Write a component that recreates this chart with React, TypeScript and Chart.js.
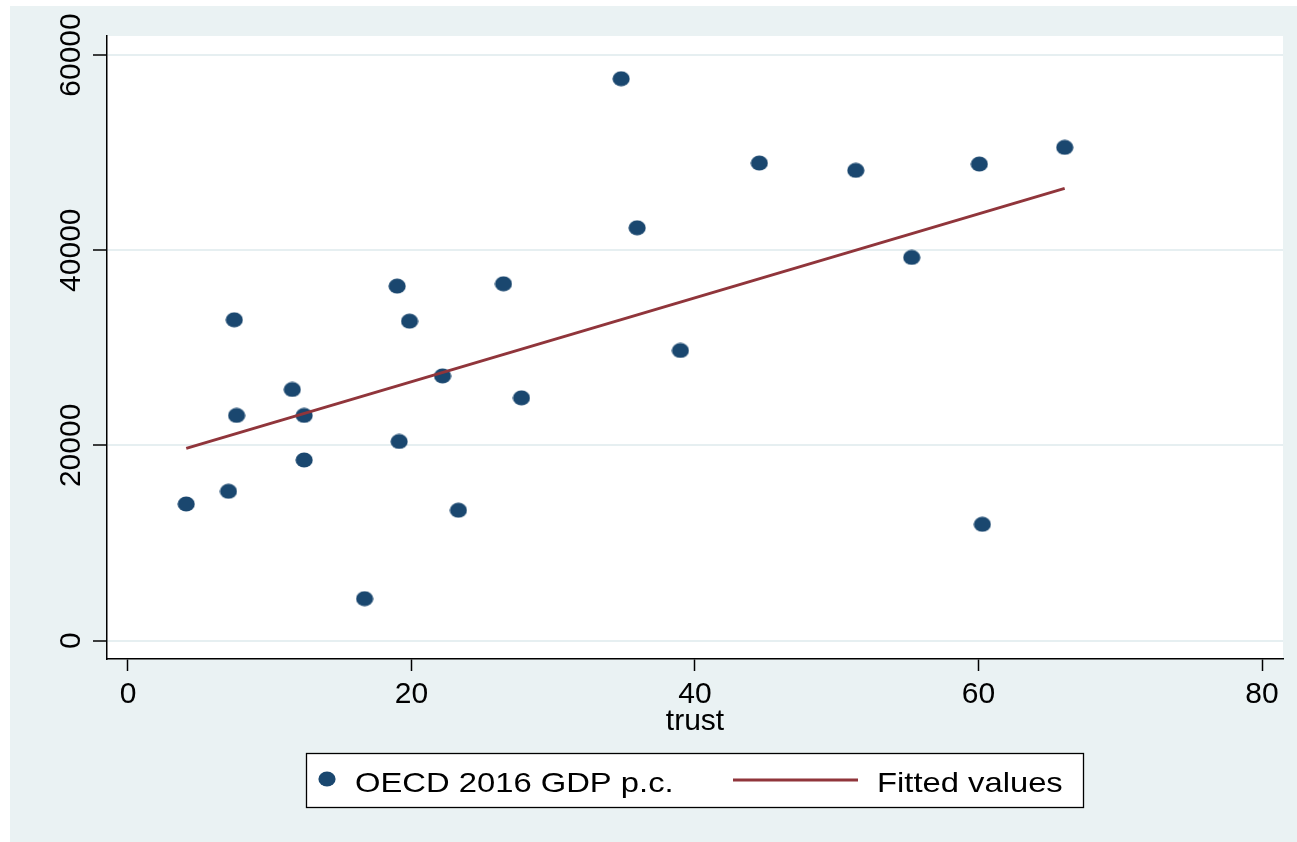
import React, { useEffect, useRef } from "react";
import { Chart, registerables } from "chart.js";

Chart.register(...registerables);

// ---- data ----
const seriesLabel = "OECD 2016 GDP p.c.";
const fitLabel = "Fitted values";
const xTitle = "trust";

const trust = [4.11, 7.09, 7.5, 7.66, 11.59, 12.43, 12.43, 16.69, 18.99, 19.13, 19.86, 22.19, 23.31, 26.49, 27.76, 34.79, 35.92, 38.97, 44.54, 51.34, 55.29, 60.06, 60.27, 66.08];
const gdp = [14000, 15300, 32870, 23070, 25730, 23070, 18510, 4300, 36320, 20400, 32730, 27120, 13360, 36560, 24870, 57570, 42300, 29730, 48930, 48180, 39260, 48830, 11920, 50540];

const fitTrust = [4.11, 66.08];
const fitValues = [19690, 46340];

const xTicks = [0, 20, 40, 60, 80];
const yTicks = [0, 20000, 40000, 60000];

// ---- styles ----
const NAVY = "#1A476F";
const MAROON = "#90353B";
const BG = "#EAF2F3";
const GRID = "#E6EFF1";
const FONT = '"Liberation Sans", Arial, sans-serif';

export default function App() {
  const ref = useRef<HTMLCanvasElement | null>(null);

  useEffect(() => {
    const canvas = ref.current;
    if (!canvas) return;

    const mk = document.createElement("canvas");
    mk.width = 18;
    mk.height = 16;
    const mc = mk.getContext("2d")!;
    mc.fillStyle = NAVY;
    mc.beginPath();
    mc.ellipse(9, 8, 8.6, 7.6, 0, 0, Math.PI * 2);
    mc.fill();

    const bgPlugin = {
      id: "bgPlugin",
      beforeDraw(chart: any) {
        const { ctx, chartArea } = chart;
        ctx.save();
        ctx.fillStyle = "#ffffff";
        ctx.fillRect(0, 0, chart.width, chart.height);
        ctx.fillStyle = BG;
        ctx.fillRect(10, 6, chart.width - 10, chart.height - 6);
        ctx.fillStyle = "#ffffff";
        ctx.fillRect(chartArea.left, chartArea.top, chartArea.right - chartArea.left, chartArea.bottom - chartArea.top);
        ctx.restore();
      },
    };

    const legendPlugin = {
      id: "boxLegend",
      afterDraw(chart: any) {
        const { ctx } = chart;
        const ds = chart.data.datasets;
        const scatterDs = ds.find((d: any) => d.type === "scatter");
        const lineDs = ds.find((d: any) => d.type === "line");
        ctx.save();
        ctx.fillStyle = "#ffffff";
        ctx.fillRect(306.5, 753.5, 777, 54);
        ctx.strokeStyle = "#000000";
        ctx.lineWidth = 1.3;
        ctx.strokeRect(306.5, 753.5, 777, 54);
        ctx.drawImage(mk, 327 - 9, 779 - 8, 18, 16);
        ctx.fillStyle = "#000000";
        ctx.font = `28px ${FONT}`;
        ctx.textBaseline = "alphabetic";
        ctx.textAlign = "left";
        ctx.save();
        ctx.translate(355, 791.5);
        ctx.scale(1.17, 1);
        ctx.fillText(scatterDs.label, 0, 0);
        ctx.restore();
        ctx.strokeStyle = lineDs.borderColor;
        ctx.lineWidth = 3;
        ctx.beginPath();
        ctx.moveTo(733, 780);
        ctx.lineTo(858, 780);
        ctx.stroke();
        ctx.save();
        ctx.translate(877, 791.5);
        ctx.scale(1.17, 1);
        ctx.fillText(lineDs.label, 0, 0);
        ctx.restore();
        ctx.restore();
      },
    };

    const chart = new Chart(canvas, {
      data: {
        datasets: [
          {
            type: "scatter",
            label: seriesLabel,
            data: trust.map((x, i) => ({ x, y: gdp[i] })),
            pointStyle: mk as any,
            pointRadius: 8,
            backgroundColor: NAVY,
            borderColor: NAVY,
            order: 1,
          },
          {
            type: "line",
            label: fitLabel,
            data: fitTrust.map((x, i) => ({ x, y: fitValues[i] })),
            borderColor: MAROON,
            borderWidth: 3,
            pointRadius: 0,
            fill: false,
            tension: 0,
            order: 0,
          },
        ],
      } as any,
      options: {
        responsive: false,
        animation: false,
        devicePixelRatio: 1,
        layout: { padding: { left: 0, top: 36, right: 14, bottom: 102 } },
        plugins: {
          legend: { display: false },
          tooltip: { enabled: false },
        },
        scales: {
          x: {
            type: "linear",
            min: -1.48,
            max: 81.48,
            afterBuildTicks: (axis: any) => {
              axis.ticks = xTicks.map((value) => ({ value }));
            },
            afterFit: (axis: any) => {
              axis.height = 81;
            },
            ticks: {
              autoSkip: false,
              maxRotation: 0,
              minRotation: 0,
              padding: 5.5,
              color: "#000",
              font: { family: FONT, size: 30 },
              callback: (v: any) => String(v),
            },
            grid: {
              drawOnChartArea: false,
              drawTicks: true,
              tickLength: 12,
              tickColor: "#000",
              tickWidth: 1.5,
            },
            border: { display: true, color: "#000", width: 1.5 },
            title: {
              display: true,
              text: xTitle,
              color: "#000",
              font: { family: FONT, size: 30 },
              padding: { top: 0, bottom: 0 },
            },
          },
          y: {
            type: "linear",
            min: -1886,
            max: 61948,
            afterBuildTicks: (axis: any) => {
              axis.ticks = yTicks.map((value) => ({ value }));
            },
            afterFit: (axis: any) => {
              axis.width = 107;
            },
            ticks: {
              autoSkip: false,
              minRotation: 90,
              maxRotation: 90,
              crossAlign: "center",
              padding: -20.5,
              color: "#000",
              font: { family: FONT, size: 30 },
              callback: (v: any) => String(v),
            },
            grid: {
              color: GRID,
              lineWidth: 2,
              drawTicks: true,
              tickLength: 14,
              tickColor: "#000",
              tickWidth: 1.5,
            },
            border: { display: true, color: "#000", width: 1.5 },
          },
        },
      } as any,
      plugins: [bgPlugin, legendPlugin],
    });

    return () => {
      chart.destroy();
    };
  }, []);

  return (
    <div style={{ position: "fixed", left: 0, top: 0, width: 1297, height: 842 }}>
      <canvas ref={ref} width={1297} height={842} style={{ display: "block" }} />
    </div>
  );
}
